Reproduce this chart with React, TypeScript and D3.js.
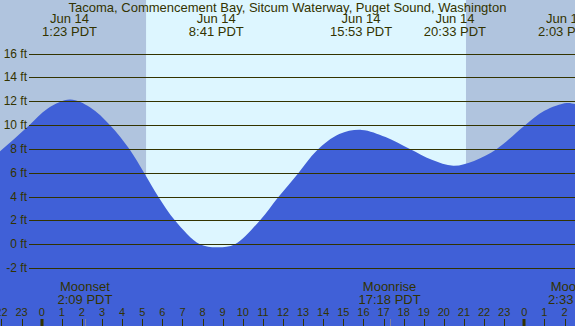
import React from "react";
import * as d3 from "d3";

const W = 575;
const H = 326;

const title = "Tacoma, Commencement Bay, Sitcum Waterway, Puget Sound, Washington";

// Tide extremes (hours since Jun 14 00:00 PDT)
const extremeHours = [1.383, 8.683, 15.883, 20.55, 26.05];
const extremeDates = ["Jun 14", "Jun 14", "Jun 14", "Jun 14", "Jun 15"];
const extremeTimes = ["1:23 PDT", "8:41 PDT", "15:53 PDT", "20:33 PDT", "2:03 PDT"];

// Tide height readings from the curve (hour, feet)
const tideHours = [-2.6, -2.07, -1.4, -0.62, 0.3, 1.41, 2.4, 3.4, 4.36, 5.09, 5.8, 6.63, 7.87, 8.78, 9.61, 10.85, 11.76, 12.75, 13.67, 14.8, 15.91, 17.1, 18.31, 19.4, 20.47, 21.5, 22.63, 24.04, 25.0, 26.11, 26.52, 27.0];
const tideFeet = [7.0, 7.8, 8.8, 10.0, 11.4, 12.15, 11.5, 10.0, 8.0, 6.0, 4.0, 2.0, 0.0, -0.25, 0.0, 2.0, 3.95, 5.95, 7.85, 9.25, 9.6, 9.0, 8.0, 7.1, 6.6, 7.0, 8.0, 10.0, 11.2, 11.85, 11.77, 11.6];

// Sun (night shading)
const sunriseHour = 5.19;
const sunsetHour = 21.1;

// Moon events
const moonLabels = ["Moonset", "Moonrise", "Moonset"];
const moonHours = [2.15, 17.3, 26.55];
const moonTimes = ["2:09 PDT", "17:18 PDT", "2:33 PDT"];

// Y ticks
const yTicks = [-2, 0, 2, 4, 6, 8, 10, 12, 14, 16];

// Hour ticks
const hourTicks = d3.range(-2, 27);

const FONT = "'Liberation Sans', Arial, Helvetica, sans-serif";
const TEXT = "#333300";
const NIGHT = "#b0c4de";
const DAY = "#ddf6ff";
const WATER = "#4060d7";

export default function App() {
  const x = d3.scaleLinear().domain([0, 24]).range([41.7, 524.3]);
  const y = d3.scaleLinear().domain([0, 12]).range([244.3, 101.3]);

  const pts: [number, number][] = tideHours.map((h, i) => [h, tideFeet[i]]);
  const area = d3
    .area<[number, number]>()
    .x((d) => x(d[0]))
    .y0(H)
    .y1((d) => y(d[1]))
    .curve(d3.curveCatmullRom.alpha(0.5));

  return (
    <svg
      width={W}
      height={H}
      style={{ position: "fixed", left: 0, top: 0, display: "block" }}
      fontFamily={FONT}
    >
      <rect x={0} y={0} width={W} height={H} fill={DAY} />
      <rect x={0} y={0} width={x(sunriseHour)} height={H} fill={NIGHT} />
      <rect x={x(sunsetHour)} y={0} width={W - x(sunsetHour)} height={H} fill={NIGHT} />
      <path d={area(pts) || ""} fill={WATER} />

      {yTicks.map((t) => (
        <g key={t}>
          <line x1={29} x2={W} y1={Math.round(y(t)) + 0.5} y2={Math.round(y(t)) + 0.5} stroke={TEXT} strokeWidth={1} />
          <text x={27} y={y(t) + 4} textAnchor="end" fontSize={12} fill={TEXT}>
            {t} ft
          </text>
        </g>
      ))}

      <text x={W / 2} y={12} textAnchor="middle" fontSize={13} fill={TEXT}>
        {title}
      </text>

      {extremeHours.map((h, i) => (
        <g key={i}>
          <text x={x(h)} y={23} textAnchor="middle" fontSize={13} fill={TEXT}>
            {extremeDates[i]}
          </text>
          <text x={x(h)} y={36} textAnchor="middle" fontSize={13} fill={TEXT}>
            {extremeTimes[i]}
          </text>
        </g>
      ))}

      {moonHours.map((h, i) => (
        <g key={i}>
          <text x={x(h)} y={291} textAnchor="middle" fontSize={13} fill={TEXT}>
            {moonLabels[i]}
          </text>
          <text x={x(h)} y={303.5} textAnchor="middle" fontSize={13} fill={TEXT}>
            {moonTimes[i]}
          </text>
          <line x1={Math.round(x(h)) + 0.5} x2={Math.round(x(h)) + 0.5} y1={319} y2={H} stroke="#8080a0" strokeWidth={1} />
        </g>
      ))}

      {hourTicks.map((h) => {
        const lab = ((h % 24) + 24) % 24;
        const mid = lab === 0;
        return (
          <g key={h}>
            <text x={x(h)} y={316} textAnchor="middle" fontSize={11} fill={TEXT}>
              {lab}
            </text>
            <line
              x1={Math.round(x(h)) + (mid ? 0 : 0.5)}
              x2={Math.round(x(h)) + (mid ? 0 : 0.5)}
              y1={319}
              y2={H}
              stroke={TEXT}
              strokeWidth={mid ? 3 : 1}
            />
          </g>
        );
      })}
    </svg>
  );
}
